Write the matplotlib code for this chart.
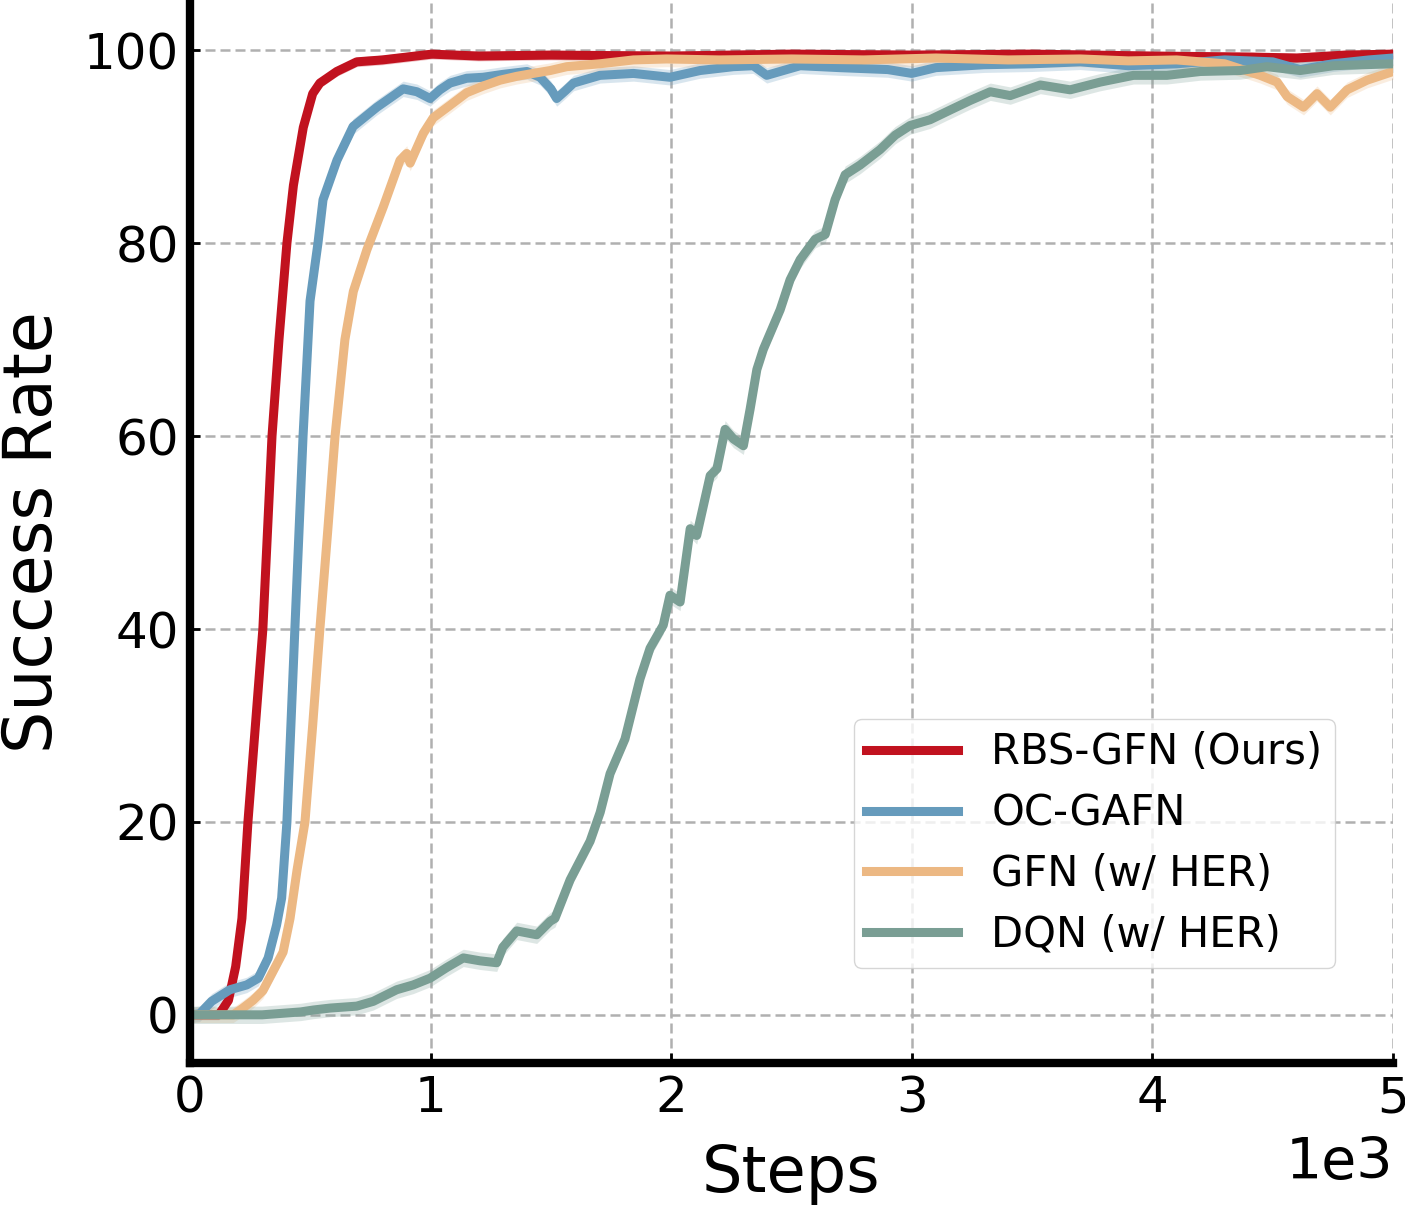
import numpy as np
import matplotlib
matplotlib.use("Agg")
import matplotlib.pyplot as plt

# courbes (x en pas, y en %)
rbs_x = [0, 120, 160, 190, 216, 241, 272, 303, 322, 341, 370, 403, 430, 471, 510, 540, 610, 693,
         800, 1005, 1200, 1500, 2000, 2500, 3000, 3500, 4000, 4400, 4600, 4800, 5000]
rbs_y = [0, 0, 1.5, 5, 10, 20, 30, 40, 50, 60, 70, 80, 86, 92, 95.5, 96.6, 97.8, 98.8,
         99.0, 99.6, 99.4, 99.5, 99.4, 99.6, 99.5, 99.6, 99.4, 99.3, 99.2, 99.5, 99.6]

oc_x = [0, 40, 90, 166, 236, 284, 325, 360, 381, 403, 436, 470, 499, 532, 553, 611, 678, 777,
        886, 943, 998, 1039, 1081, 1150, 1218, 1300, 1400, 1455, 1500, 1524, 1560, 1594, 1704,
        1843, 1995, 2120, 2258, 2341, 2397, 2466, 2536, 2700, 2900, 3000, 3100, 3300, 3500,
        3700, 3900, 4100, 4300, 4500, 4614, 4750, 4900, 5000]
oc_y = [0, 0.1, 1.4, 2.6, 3.1, 3.8, 5.9, 9.3, 12.1, 20, 40, 60, 74, 80, 84.5, 88.6, 92.1, 94.1,
        96.0, 95.7, 95.0, 95.9, 96.6, 97.1, 97.2, 97.5, 97.8, 97.2, 96.0, 95.0, 95.8, 96.6, 97.4,
        97.6, 97.2, 97.9, 98.3, 98.4, 97.4, 97.9, 98.4, 98.2, 98.0, 97.6, 98.2, 98.5, 98.6,
        98.8, 98.4, 98.6, 99.0, 98.8, 98.0, 98.6, 99.0, 99.2]

gfn_x = [0, 180, 220, 262, 303, 345, 387, 416, 445, 478, 510, 540, 572, 603, 644, 679, 735, 804,
         873, 901, 915, 970, 1011, 1081, 1150, 1219, 1289, 1358, 1426, 1497, 1566, 1704, 1843,
         1981, 2200, 2500, 2800, 3100, 3400, 3700, 3900, 4100, 4300, 4448, 4518, 4560, 4628,
         4684, 4739, 4809, 4892, 5000]
gfn_y = [0, 0, 0.7, 1.5, 2.5, 4.5, 6.5, 10, 15, 20, 30, 40, 50, 60, 70, 75, 79.3, 83.8,
         88.6, 89.3, 88.3, 91.4, 93.0, 94.3, 95.6, 96.3, 96.9, 97.3, 97.6, 97.9, 98.3, 98.6, 99.0,
         99.1, 99.0, 99.1, 99.0, 99.2, 99.0, 99.1, 98.9, 99.0, 98.6, 97.4, 96.7, 95.2, 94.1,
         95.5, 94.1, 95.9, 96.9, 97.8]

dqn_x = [0, 300, 460, 513, 582, 693, 762, 859, 928, 998, 1067, 1136, 1205, 1275, 1300, 1358,
         1441, 1497, 1517, 1580, 1663, 1705, 1746, 1808, 1870, 1912, 1967, 1995, 2037, 2079,
         2106, 2162, 2190, 2224, 2259, 2300, 2328, 2356, 2383, 2453, 2494, 2536, 2598, 2640,
         2681, 2723, 2785, 2868, 2931, 2993, 3076, 3159, 3243, 3326, 3409, 3534, 3658, 3783,
         3921, 4060, 4199, 4365, 4476, 4614, 4752, 5000]
dqn_y = [0, 0, 0.3, 0.5, 0.7, 0.9, 1.4, 2.6, 3.1, 3.8, 4.9, 5.9, 5.6, 5.4, 7.0, 8.7,
         8.3, 9.7, 10, 14, 18, 21, 25, 28.6, 34.8, 38, 40.4, 43.5, 42.8, 50.4,
         49.7, 55.9, 56.6, 60.7, 59.7, 59.0, 62.8, 66.9, 69.0, 73.1, 76.2, 78.3, 80.4, 80.9,
         84.5, 87.1, 88.1, 89.7, 91.2, 92.2, 92.8, 93.8, 94.8, 95.7, 95.3, 96.4, 95.9, 96.7,
         97.4, 97.4, 97.8, 97.9, 98.3, 97.9, 98.4, 98.6]

series = [
    ("RBS-GFN (Ours)", rbs_x, rbs_y, "#c1121f", 0.5),
    ("OC-GAFN", oc_x, oc_y, "#669bbc", 0.8),
    ("GFN (w/ HER)", gfn_x, gfn_y, "#ecb883", 0.8),
    ("DQN (w/ HER)", dqn_x, dqn_y, "#7a9e94", 0.9),
]

fig = plt.figure(figsize=(14.05, 12.05), dpi=100)
ax = fig.add_axes([0.1352, 0.1178, 0.8563, 0.8805])

for label, x, y, color, spread in series:
    x = np.array(x, dtype=float)
    y = np.array(y, dtype=float)
    ax.fill_between(x, y - spread, y + spread, color=color, alpha=0.25, linewidth=0)
    ax.plot(x, y, color=color, lw=6.5, label=label)

ax.set_xlim(0, 5000)
ax.set_ylim(-5, 105)
ax.set_xticks([0, 1000, 2000, 3000, 4000, 5000])
ax.set_yticks([0, 20, 40, 60, 80, 100])
ax.ticklabel_format(axis="x", style="sci", scilimits=(3, 3))
ax.xaxis.get_offset_text().set_visible(False)
ax.text(1.0, -0.095, "1e3", transform=ax.transAxes, ha="right", va="center", fontsize=41)

ax.grid(True, linestyle=(0, (4, 2)), color="#b0b0b0", lw=1.8)
ax.set_axisbelow(True)
for side in ["top", "right"]:
    ax.spines[side].set_visible(False)
for side in ["left", "bottom"]:
    ax.spines[side].set_linewidth(6)
ax.tick_params(direction="in", length=7, width=2, labelsize=36, pad=8)

ax.set_xlabel("Steps", fontsize=46, labelpad=15)
ax.set_ylabel("Success Rate", fontsize=48, labelpad=13)

ax.legend(loc="lower right", bbox_to_anchor=(0.9518, 0.0895), borderaxespad=0,
          fontsize=30, labelspacing=0.45, handlelength=2.2, borderpad=0.3)

fig.savefig("out.png", dpi=100)
